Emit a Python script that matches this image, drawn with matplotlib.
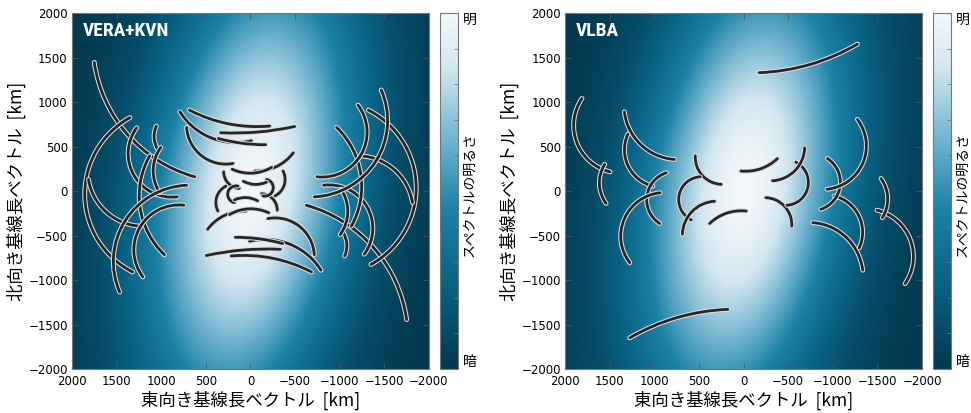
import numpy as np
import matplotlib
matplotlib.use('Agg')
import matplotlib.pyplot as plt
from matplotlib.patches import Arc
from matplotlib.colors import LinearSegmentedColormap
import matplotlib.patheffects as pe
import logging

logging.getLogger('matplotlib.font_manager').setLevel(logging.ERROR)

plt.rcParams['font.family'] = ['DejaVu Sans', 'Noto Sans CJK JP']
JP = ['Noto Sans CJK JP', 'DejaVu Sans']
TITLE_FONT = ['Roboto Condensed', 'Liberation Sans Narrow', 'Roboto', 'DejaVu Sans']

# uv tracks, one half only: (start, a point on the track, end) in km.
# the other half is the conjugate (-u, -v)
vera_tracks = [
    [(1750, 1445), (1420, 685), (625, 160)],
    [(1350, 825), (1805, 280), (1320, -910)],
    [(1815, 130), (1600, -250), (1235, -395)],
    [(1275, 710), (1350, 280), (820, -65)],
    [(1055, 730), (1080, 620), (1040, 470)],
    [(1130, 395), (1240, 55), (965, -715)],
    [(1005, 490), (1090, 225), (1015, -20)],
    [(1465, -1135), (1500, -545), (715, 65)],
    [(1205, -965), (1305, -620), (745, -160)],
    [(685, 910), (270, 760), (-215, 730)],
    [(790, 890), (570, 665), (-10, 565)],
    [(335, 655), (-105, 665), (-495, 725)],
    [(360, 590), (80, 535), (-170, 520)],
    [(715, 715), (605, 450), (195, 310)],
    [(-480, 430), (-330, 295), (-50, 225)],
    [(205, 245), (0, 200), (-235, 265)],
    [(300, 215), (260, 100), (125, 30)],
    [(-365, 225), (-385, 95), (-275, -55)],
    [(-180, 130), (-255, 35), (-140, -55)],
    [(80, 110), (-35, 75), (-180, 100)],
]

vlba_tracks = [
    [(1275, -1650), (755, -1425), (175, -1330)],
    [(1810, 1040), (1880, 580), (1495, 215)],
    [(1555, 300), (1615, 95), (1540, -140)],
    [(1335, 890), (1205, 580), (775, 355)],
    [(1295, 640), (1320, 355), (1015, 55)],
    [(865, 205), (1085, -95), (940, -365)],
    [(935, -20), (1370, -430), (1275, -805)],
    [(540, 395), (475, 190), (250, 75)],
    [(485, 160), (715, -20), (585, -325)],
    [(325, -115), (550, -205), (685, -485)],
    [(380, -365), (230, -265), (-30, -225)],
]

panels = ['VERA+KVN', 'VLBA']
all_tracks = [vera_tracks, vlba_tracks]

# brightness of the spectrum (model): tilted gaussian
sigma_u = 800.0
sigma_v = 1800.0
tilt = 0.125

ticks = [2000, 1500, 1000, 500, 0, -500, -1000, -1500, -2000]
cbar_labels = ['暗'] + [''] * 9 + ['明']

cmap = LinearSegmentedColormap.from_list('spec', [
    (0.0, '#03374d'), (0.25, '#0a6486'), (0.45, '#1b82a6'),
    (0.65, '#74b5d0'), (0.85, '#d3e7f0'), (1.0, '#f2f7fa')])


def track_arc(p1, pm, p2, **kw):
    (x1, y1), (xm, ym), (x2, y2) = p1, pm, p2
    d = 2 * (x1 * (ym - y2) + xm * (y2 - y1) + x2 * (y1 - ym))
    s1, sm, s2 = x1**2 + y1**2, xm**2 + ym**2, x2**2 + y2**2
    cx = (s1 * (ym - y2) + sm * (y2 - y1) + s2 * (y1 - ym)) / d
    cy = (s1 * (x2 - xm) + sm * (x1 - x2) + s2 * (xm - x1)) / d
    r = np.hypot(x1 - cx, y1 - cy)
    a1 = np.degrees(np.arctan2(y1 - cy, x1 - cx))
    am = np.degrees(np.arctan2(ym - cy, xm - cx))
    a2 = np.degrees(np.arctan2(y2 - cy, x2 - cx))
    span = (a2 - a1) % 360
    if (am - a1) % 360 < span:
        t1, t2 = a1, a1 + span
    else:
        t1, t2 = a2, a2 + 360 - span
    return Arc((cx, cy), 2 * r, 2 * r, theta1=t1, theta2=t2, **kw)


fig = plt.figure(figsize=(9.71, 4.13), dpi=100)
ax_x = [0.0741, 0.5819]
cb_x = [0.4531, 0.9609]

g = np.linspace(-2000, 2000, 401)
X, Y = np.meshgrid(g, g)
U = X + tilt * Y
Z = np.exp(-(U**2 / (2 * sigma_u**2) + Y**2 / (2 * sigma_v**2)))

for i in range(2):
    ax = fig.add_axes([ax_x[i], 0.1065, 0.3677, 0.862])
    cax = fig.add_axes([cb_x[i], 0.1065, 0.0190, 0.862])

    im = ax.imshow(Z, extent=(-2000, 2000, -2000, 2000), origin='lower',
                   cmap=cmap, vmin=0, vmax=1, aspect='auto',
                   interpolation='bilinear')

    for tr in all_tracks[i]:
        for sgn in (1, -1):
            pts = [(sgn * p[0], sgn * p[1]) for p in tr]
            a = track_arc(*pts, edgecolor='#262626', linewidth=2.0,
                          capstyle='round', zorder=3)
            a.set_path_effects([pe.Stroke(linewidth=3.5, foreground='#dedede'),
                                pe.Normal()])
            ax.add_patch(a)

    ax.set_xlim(2000, -2000)
    ax.set_ylim(-2000, 2000)
    ax.set_xticks(ticks)
    ax.set_yticks(ticks)
    ax.tick_params(direction='in', top=True, right=True, length=4,
                   width=0.6, color='#555555', labelsize=8.5)
    ax.tick_params(axis='x', pad=4)
    ax.tick_params(axis='y', pad=3)
    for s in ax.spines.values():
        s.set_color('#777777')
        s.set_linewidth(0.8)

    ax.text(0.03, 0.975, panels[i], transform=ax.transAxes, color='white',
            fontsize=14, fontweight='bold', family=TITLE_FONT,
            ha='left', va='top')

    ax.set_xlabel('東向き基線長ベクトル  [km]', family=JP, fontsize=12.5,
                  labelpad=2)
    ax.set_ylabel('北向き基線長ベクトル  [km]', family=JP, fontsize=12.5,
                  labelpad=2)

    cb = fig.colorbar(im, cax=cax, ticks=np.linspace(0, 1, 11))
    cb.outline.set_edgecolor('#777777')
    cb.outline.set_linewidth(0.8)
    cax.tick_params(direction='in', length=3, width=0.6, color='#777777',
                    labelsize=10, pad=3)
    cax.set_yticklabels(cbar_labels, family=JP)
    labs = cax.get_yticklabels()
    labs[0].set_va('bottom')
    labs[-1].set_va('top')
    cax.text(1.6, 0.49, 'スペクトルの明るさ', transform=cax.transAxes,
             rotation=90, ha='center', va='center', fontsize=10, family=JP)

fig.savefig('out.png', dpi=100)
